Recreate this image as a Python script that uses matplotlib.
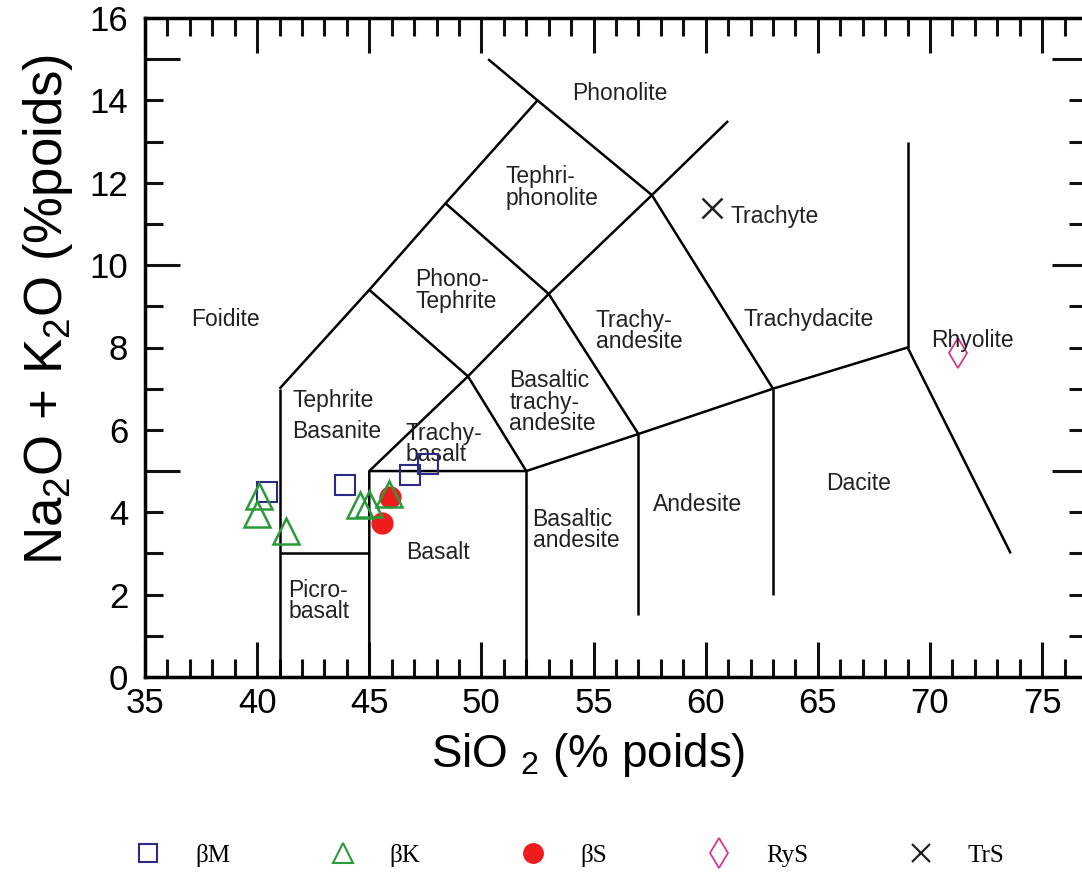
import matplotlib
matplotlib.use("Agg")
import matplotlib.pyplot as plt
from matplotlib.ticker import MultipleLocator
from matplotlib.lines import Line2D

plt.rcParams['font.family'] = ['Liberation Sans', 'DejaVu Sans']
plt.rcParams['mathtext.default'] = 'regular'

# TAS field boundaries (SiO2, Na2O+K2O), one list per polyline
boundary_x = [
    [41, 41],
    [45, 45, 49.4, 53, 57.6, 61],
    [41, 45, 48.4, 52.5, 50.3],
    [41, 45],
    [45, 52, 57, 63, 69, 73.6],
    [52, 52],
    [57, 57],
    [63, 63],
    [69, 69],
    [45, 49.4],
    [48.4, 53],
    [52.5, 57.6],
    [49.4, 52],
    [53, 57],
    [57.6, 63],
]
boundary_y = [
    [0, 7],
    [0, 5, 7.3, 9.3, 11.7, 13.5],
    [7, 9.4, 11.5, 14, 15.0],
    [3, 3],
    [5, 5, 5.9, 7, 8, 3.0],
    [0, 5],
    [1.5, 5.9],
    [2, 7],
    [8, 13],
    [9.4, 7.3],
    [11.5, 9.3],
    [14, 11.7],
    [7.3, 5],
    [9.3, 5.9],
    [11.7, 7],
]

# field names
field_names = ['Phonolite', 'Tephri-\nphonolite', 'Trachyte', 'Phono-\nTephrite',
               'Foidite', 'Trachy-\nandesite', 'Trachydacite', 'Rhyolite',
               'Tephrite', 'Basanite', 'Basaltic\ntrachy-\nandesite',
               'Trachy-\nbasalt', 'Basalt', 'Picro-\nbasalt',
               'Basaltic\nandesite', 'Andesite', 'Dacite']
field_x = [56.16, 51.07, 61.1, 47.05, 38.6, 55.09, 64.6, 71.9,
           41.56, 41.56, 51.25, 46.6, 48.08, 41.38, 52.28, 59.64, 66.8]
field_y = [14.17, 11.89, 11.19, 9.39, 8.69, 8.40, 8.69, 8.18,
           6.72, 5.95, 6.67, 5.66, 3.03, 1.84, 3.57, 4.2, 4.71]
field_ha = ['center', 'left', 'left', 'left', 'center', 'left', 'center', 'center',
            'left', 'left', 'left', 'left', 'center', 'left', 'left', 'center', 'center']

# samples
bm_x = [40.45, 43.93, 46.83, 47.63]
bm_y = [4.49, 4.66, 4.90, 5.16]
bk_x = [40.1, 40.0, 41.3, 44.6, 45.0, 45.9]
bk_y = [4.4, 3.95, 3.55, 4.18, 4.2, 4.45]
bs_x = [45.94, 45.58]
bs_y = [4.37, 3.74]
rys_x = [71.25]
rys_y = [7.86]
trs_x = [60.3]
trs_y = [11.38]

fig = plt.figure(figsize=(10.82, 8.76), dpi=100)
ax = fig.add_axes([145 / 1082, 199 / 876, 942 / 1082, 659 / 876])

for bx, by in zip(boundary_x, boundary_y):
    ax.plot(bx, by, color='black', lw=1.8, solid_capstyle='butt')

for name, tx, ty, ha in zip(field_names, field_x, field_y, field_ha):
    ax.text(tx, ty, name, fontsize=16.5, ha=ha, va='center',
            linespacing=0.92, color='#222222')

ax.plot(bm_x, bm_y, 's', ms=14, mfc='none', mec='#2b2b86', mew=1.5, zorder=3)
ax.plot(bs_x, bs_y, 'o', ms=15, color='#ee1c1c', zorder=3)
ax.plot(bk_x, bk_y, '^', ms=19, mfc='none', mec='#2a9a3a', mew=1.8, zorder=4)
ax.plot(rys_x, rys_y, 'd', ms=15, mfc='none', mec='#d6388e', mew=1.3)
ax.plot(trs_x, trs_y, 'x', ms=14, color='#222222', mew=1.8)

ax.set_xlim(35, 77)
ax.set_ylim(0, 16)

ax.xaxis.set_major_locator(MultipleLocator(5))
ax.xaxis.set_minor_locator(MultipleLocator(1))
ax.set_yticks(range(0, 17))
ax.set_yticklabels([str(v) if v % 2 == 0 else '' for v in range(0, 17)])

ax.tick_params(which='both', direction='in', top=True, right=True, width=2.2,
               labelsize=25, color='#111111')
ax.tick_params(axis='x', which='major', length=25, pad=7)
ax.tick_params(axis='x', which='minor', length=13)
ax.tick_params(axis='y', which='both', length=13, pad=12)
for v, tick in zip(range(0, 17), ax.yaxis.get_major_ticks()):
    if v % 5 == 0:
        tick.tick1line.set_markersize(25)
        tick.tick2line.set_markersize(25)

for sp in ax.spines.values():
    sp.set_linewidth(2.5)

ax.set_xlabel('SiO $_2$ (% poids)', fontsize=33)
ax.set_ylabel('Na$_2$O + K$_2$O (%poids)', fontsize=38)
ax.xaxis.set_label_coords(0.470, -0.082)
ax.yaxis.set_label_coords(-0.074, 0.557)

handles = [
    Line2D([], [], ls='none', marker='s', ms=13, mfc='none', mec='#2b2b86', mew=1.5),
    Line2D([], [], ls='none', marker='^', ms=15, mfc='none', mec='#2a9a3a', mew=1.5),
    Line2D([], [], ls='none', marker='o', ms=14, color='#ee1c1c'),
    Line2D([], [], ls='none', marker='d', ms=15, mfc='none', mec='#d6388e', mew=1.3),
    Line2D([], [], ls='none', marker='x', ms=13, color='#222222', mew=1.6),
]
labels = ['βM', 'βK', 'βS', 'RyS', 'TrS']
fig.legend(handles, labels, loc='lower left', bbox_to_anchor=(0.1137, 0.010),
           ncol=5, frameon=False, handletextpad=0.88, columnspacing=3.5,
           borderpad=0, borderaxespad=0,
           prop={'family': 'Liberation Serif', 'size': 18})

fig.savefig('out.png', dpi=100)
